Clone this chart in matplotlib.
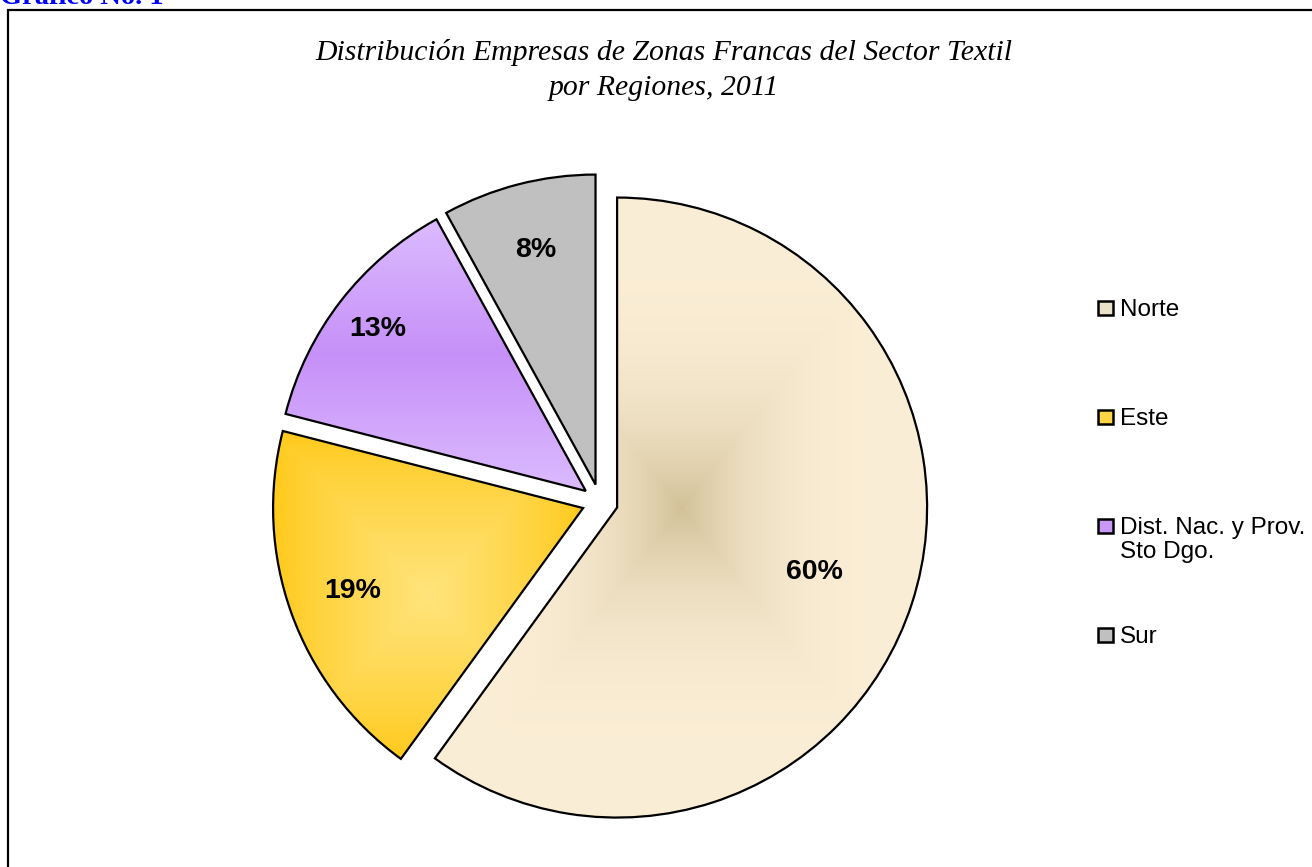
import numpy as np
import matplotlib.pyplot as plt
from matplotlib.patches import Rectangle
from matplotlib.colors import to_rgb

# datos
regiones = ["Norte", "Este", "Dist. Nac. y Prov.\nSto Dgo.", "Sur"]
porcentajes = [60, 19, 13, 8]
etiquetas = ["60%", "19%", "13%", "8%"]

titulo = "Distribución Empresas de Zonas Francas del Sector Textil\npor Regiones, 2011"

W, H = 1312, 867
fig = plt.figure(figsize=(W / 100, H / 100), dpi=100)

# marco del grafico
fig.patches.append(Rectangle((8 / W, -0.05), 1.1, 1 - 10 / H + 0.05,
                             transform=fig.transFigure, fill=False,
                             lw=1.6, ec="black"))

fig.text(0, 1 - 4 / H, "Gráfico No. 1", color="#0000FF", fontsize=20.5,
         fontweight="bold", family="Liberation Serif", va="baseline")

fig.text(664 / W, 1 - 70 / H, titulo, ha="center", va="center",
         fontsize=21.4, style="italic", family="Liberation Serif",
         linespacing=1.45)

ax = fig.add_axes([(600 - 350) / W, (H - 502 - 350) / H, 700 / W, 700 / H])
wedges, _ = ax.pie(porcentajes, radius=1, explode=[0.058] * 4, startangle=90,
                   counterclock=False,
                   wedgeprops=dict(ec="black", lw=1.6, fc="none"))


def caja(w):
    cx, cy = w.center
    th = np.radians(np.linspace(w.theta1, w.theta2, 300))
    xs = np.r_[cx, cx + w.r * np.cos(th)]
    ys = np.r_[cy, cy + w.r * np.sin(th)]
    return xs.min(), xs.max(), ys.min(), ys.max()


def mezcla(c_borde, c_centro, f):
    a = np.array(to_rgb(c_borde))
    b = np.array(to_rgb(c_centro))
    return a + (b - a) * f[..., None]


n = 300
X, Y = np.meshgrid(np.linspace(-1, 1, n), np.linspace(-1, 1, n))
rect = np.maximum(np.abs(X), np.abs(Y))
rellenos = [
    mezcla("#FBEED6", "#D2C198", (1 - rect) ** 3.2),
    mezcla("#FFC918", "#FFE47C", (1 - rect) ** 0.8),
    mezcla("#DCBBFF", "#C690F8", 1 - np.abs(Y)),
    mezcla("#C0C0C0", "#C0C0C0", np.zeros_like(X)),
]

for w, img in zip(wedges, rellenos):
    x0, x1, y0, y1 = caja(w)
    im = ax.imshow(img, extent=[x0, x1, y0, y1], origin="lower", zorder=0,
                   interpolation="bilinear")
    im.set_clip_path(w)

# etiquetas de porcentaje
dist_etq = [0.67, 0.79, 0.85, 0.78]
for w, txt, d in zip(wedges, etiquetas, dist_etq):
    mid = np.radians((w.theta1 + w.theta2) / 2)
    cx, cy = w.center
    ax.text(cx + d * np.cos(mid), cy + d * np.sin(mid), txt, ha="center",
            va="center", fontsize=20.5, fontweight="bold",
            family="Liberation Sans")

lim = 350 / 310
ax.set_xlim(-lim, lim)
ax.set_ylim(-lim, lim)
ax.set_aspect("equal")
ax.axis("off")

# leyenda
colores_ley = ["#EAE1CA", "#FFD445", "#C997F8", "#C0C0C0"]
for i, (lab, c) in enumerate(zip(regiones, colores_ley)):
    yc = 308 + i * 109
    fig.patches.append(Rectangle((1098 / W, 1 - (yc + 7) / H), 15 / W, 14 / H,
                                 transform=fig.transFigure, fc=c, ec="black",
                                 lw=1.8))
    fig.text(1120 / W, 1 - (yc - 9) / H, lab, fontsize=17.5,
             family="Liberation Sans", va="top", linespacing=1.12)

fig.savefig("out.png", dpi=100)
